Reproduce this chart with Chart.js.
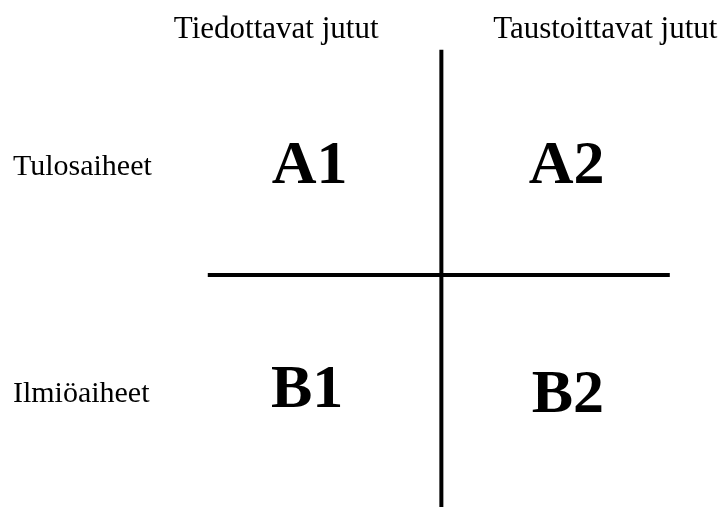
<!DOCTYPE html>
<html>
<head>
<meta charset="utf-8">
<script src="https://cdn.jsdelivr.net/npm/chart.js@4"></script>
<style>
  html, body { margin: 0; padding: 0; background: #fff; }
  canvas { display: block; }
</style>
</head>
<body>
<canvas id="matrix_chart" width="724" height="507"></canvas>
<script>
// column headings and row headings of the 2x2 matrix (y = text baseline)
const columnLabels = ["Tiedottavat jutut", "Taustoittavat jutut"];
const columnX = [-1.28, 1.27];
const headerY = 2.097;

const rowLabels = ["Tulosaiheet", "Ilmiöaiheet"];
const rowY = [0.884, -1.118];
const rowLabelX = -3.32;

// cell codes and their positions in the grid
const cellLabels = ["A1", "A2", "B1", "B2"];
const cellX = [-1.02, 0.97, -1.04, 0.98];
const cellY = [0.814, 0.814, -1.168, -1.212];

// the two dividing lines
const horizontalLine = [
  { x: -1.81, y: 0 },
  { x: 1.77, y: 0 },
];
const verticalLine = [
  { x: 0, y: 1.99 },
  { x: 0, y: -2.06 },
];

// -----------------------------------------------------------------------------

const serif = "'Liberation Serif', 'DejaVu Serif', serif";

const textPlugin = {
  id: "matrixText",
  afterDatasetsDraw(chart) {
    const { ctx, scales } = chart;
    const xs = scales.x;
    const ys = scales.y;
    ctx.save();
    ctx.fillStyle = "#000";
    ctx.textBaseline = "alphabetic";

    ctx.font = `31px ${serif}`;
    ctx.textAlign = "center";
    columnLabels.forEach((label, i) => {
      ctx.fillText(label, xs.getPixelForValue(columnX[i]), ys.getPixelForValue(headerY));
    });

    ctx.font = `30px ${serif}`;
    ctx.textAlign = "left";
    rowLabels.forEach((label, i) => {
      ctx.fillText(label, xs.getPixelForValue(rowLabelX), ys.getPixelForValue(rowY[i]));
    });

    ctx.font = `bold 62px ${serif}`;
    ctx.textAlign = "center";
    cellLabels.forEach((label, i) => {
      ctx.fillText(label, xs.getPixelForValue(cellX[i]), ys.getPixelForValue(cellY[i]));
    });
    ctx.restore();
  },
};

const lineStyle = {
  showLine: true,
  borderColor: "#000",
  borderWidth: 4,
  borderCapStyle: "butt",
  pointRadius: 0,
  pointHoverRadius: 0,
  clip: false,
};

const chartElem = document.getElementById("matrix_chart");

const matrixChart = new Chart(chartElem, {
  type: "scatter",
  data: {
    datasets: [
      { label: "horizontal", data: horizontalLine, ...lineStyle },
      { label: "vertical", data: verticalLine, ...lineStyle },
    ],
  },
  options: {
    responsive: false,
    animation: false,
    events: [],
    layout: { padding: 0 },
    plugins: {
      legend: { display: false },
      tooltip: { enabled: false },
    },
    scales: {
      x: { type: "linear", min: -3.42, max: 2.19, display: false },
      y: { type: "linear", min: -2.05, max: 2.43, display: false },
    },
  },
  plugins: [textPlugin],
});
</script>
</body>
</html>
